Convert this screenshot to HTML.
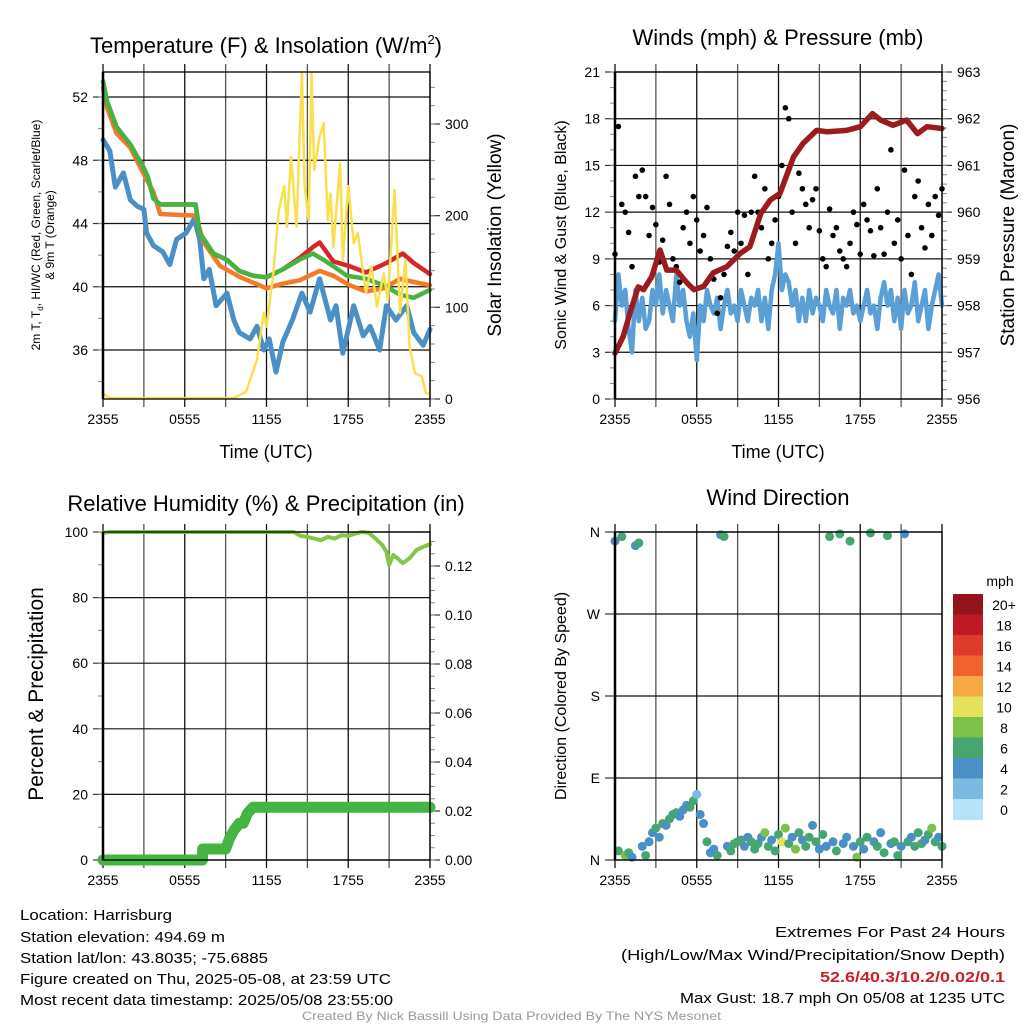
<!DOCTYPE html>
<html><head><meta charset="utf-8"><style>
body{margin:0;background:#fff}
svg{display:block;font-family:"Liberation Sans",sans-serif}
</style></head><body>
<svg id="fig" width="1024" height="1024" viewBox="0 0 1024 1024" xmlns="http://www.w3.org/2000/svg">
<rect width="1024" height="1024" fill="#fff"/>
<g id="g"></g>
<!-- titles -->
<text x="266" y="53" font-size="22" text-anchor="middle">Temperature (F) &amp; Insolation (W/m<tspan font-size="13" dy="-9">2</tspan><tspan dy="9">)</tspan></text>
<text x="778" y="45" font-size="22" text-anchor="middle">Winds (mph) &amp; Pressure (mb)</text>
<text x="266" y="511" font-size="22" text-anchor="middle">Relative Humidity (%) &amp; Precipitation (in)</text>
<text x="778" y="505" font-size="22" text-anchor="middle">Wind Direction</text>
<text x="266" y="458" font-size="18" text-anchor="middle">Time (UTC)</text>
<text x="778" y="458" font-size="18" text-anchor="middle">Time (UTC)</text>
<text transform="translate(40,235) rotate(-90)" font-size="12" text-anchor="middle">2m T, T<tspan font-size="8" dy="3">d</tspan><tspan dy="-3">, HI/WC (Red, Green, Scarlet/Blue)</tspan></text>
<text transform="translate(54,235) rotate(-90)" font-size="12" text-anchor="middle">&amp; 9m T (Orange)</text>
<text transform="translate(501,235) rotate(-90)" font-size="19" text-anchor="middle">Solar Insolation (Yellow)</text>
<text transform="translate(566,235) rotate(-90)" font-size="16" text-anchor="middle">Sonic Wind &amp; Gust (Blue, Black)</text>
<text transform="translate(1014,235) rotate(-90)" font-size="19" text-anchor="middle">Station Pressure (Maroon)</text>
<text transform="translate(43,694) rotate(-90)" font-size="21" text-anchor="middle">Percent &amp; Precipitation</text>
<text transform="translate(566,696) rotate(-90)" font-size="16" text-anchor="middle">Direction (Colored By Speed)</text>
<text x="1000" y="586" font-size="14" text-anchor="middle">mph</text>
<!-- footer -->
<g font-size="14.5">
<text x="20" y="920" textLength="152" lengthAdjust="spacingAndGlyphs">Location: Harrisburg</text>
<text x="20" y="942" textLength="205" lengthAdjust="spacingAndGlyphs">Station elevation: 494.69 m</text>
<text x="20" y="963" textLength="248" lengthAdjust="spacingAndGlyphs">Station lat/lon: 43.8035; -75.6885</text>
<text x="20" y="984" textLength="371" lengthAdjust="spacingAndGlyphs">Figure created on Thu, 2025-05-08, at 23:59 UTC</text>
<text x="20" y="1005" textLength="373" lengthAdjust="spacingAndGlyphs">Most recent data timestamp: 2025/05/08 23:55:00</text>
</g>
<g font-size="14.5">
<text x="775" y="937" textLength="230" lengthAdjust="spacingAndGlyphs">Extremes For Past 24 Hours</text>
<text x="621" y="960" textLength="384" lengthAdjust="spacingAndGlyphs">(High/Low/Max Wind/Precipitation/Snow Depth)</text>
<text x="820" y="982" textLength="185" lengthAdjust="spacingAndGlyphs" fill="#c8202a" font-weight="bold">52.6/40.3/10.2/0.02/0.1</text>
<text x="680" y="1003" textLength="325" lengthAdjust="spacingAndGlyphs">Max Gust: 18.7 mph On 05/08 at 1235 UTC</text>
</g>
<text x="302" y="1020" font-size="12" fill="#999" textLength="419" lengthAdjust="spacingAndGlyphs">Created By Nick Bassill Using Data Provided By The NYS Mesonet</text>
</svg>
<script>
// ---- data ----
const xTickLabels=["2355","","0555","","1155","","1755","","2355"];
const tempTicks=[36,40,44,48,52];
const solarTicks=[0,100,200,300];
const windTicks=[0,3,6,9,12,15,18,21];
const pressTicks=[956,957,958,959,960,961,962,963];
const rhTicks=[0,20,40,60,80,100];
const precipTicks=[0,0.02,0.04,0.06,0.08,0.10,0.12];
const precipTickLabels=["0.00","0.02","0.04","0.06","0.08","0.10","0.12"];
const dirTicks=[0,90,180,270,360];
const dirTickLabels=["N","E","S","W","N"];
const speedBinLabels=["0","2","4","6","8","10","12","14","16","18","20+"];
const speedColors=["#b6e3f8","#7cb9e3","#4a8fc6","#47a571","#7dc14b","#e6e15a","#f6a943","#f0632e","#de3a2c","#bd1a23","#94141b"];

const greenT=[0,0.3,1,2,3,3.3,3.7,4.2,6.8,7.1,8.1,9.1,10,11,12,13.2,14.4,15.4,16.2,16.9,17.9,19.3,20.6,21.8,22.8,24];
const greenV=[53.0,51.7,50.1,49.0,47.5,46.9,45.6,45.2,45.2,43.4,42.1,41.7,41.0,40.7,40.6,41.1,41.7,42.1,41.7,41.3,40.7,40.5,40.1,39.5,39.3,39.8];
const redT=[0,0.3,1,2,3,3.3,3.7,4.2,6.8,7.1,8.1,9.1,10,11,12,13.2,14.4,15.4,15.9,16.9,18.1,19.3,20.8,22,22.8,24];
const redV=[53.0,51.7,50.1,49.0,47.5,46.9,45.6,45.2,45.2,43.4,42.1,41.7,41.0,40.7,40.6,41.1,41.8,42.5,42.8,41.6,41.3,40.9,41.5,42.1,41.5,40.8];
const orangeT=[0,0.3,1,2,3,3.7,4.2,6.8,7.4,8.6,10.1,12,13.2,14.4,15.9,16.9,18.1,19.3,20.6,21.8,22.8,24];
const orangeV=[52.6,51.3,49.7,48.8,47.1,46.0,44.6,44.5,42.8,41.3,40.6,39.9,40.2,40.4,41.0,40.7,40.1,39.7,39.9,40.5,40.3,40.1];
const blueT=[0,0.5,0.9,1.5,2,2.5,3,3.2,3.7,4.4,4.9,5.4,6.1,6.7,7.1,7.4,7.8,8.3,9.1,9.6,10,10.8,11.3,11.8,12.2,12.7,13.2,13.9,14.6,15.2,15.9,16.7,17.1,17.6,18.4,19.1,19.6,20.3,20.8,21.5,22.3,22.8,23.5,24];
const blueV=[49.3,48.6,46.3,47.2,45.5,45.1,44.9,43.4,42.6,42.2,41.4,43.0,43.4,44.3,43.0,40.5,41.1,38.8,39.6,37.9,37.1,36.7,37.5,36.0,36.7,34.6,36.5,37.9,39.6,38.4,40.5,37.9,38.8,35.8,38.8,36.9,37.5,36.0,38.8,37.9,38.8,37.1,36.3,37.3];
const solarT=[0,0.5,9.6,10.5,11.3,11.8,12,12.5,12.9,13.3,13.5,13.8,14.2,14.6,14.8,15.1,15.3,15.5,15.9,16.2,16.5,16.7,16.9,17.4,17.6,18.0,18.4,18.7,19.1,19.3,19.7,20.1,20.6,20.9,21.4,21.8,22.2,22.5,22.9,23.4,23.7,24];
const solarV=[6,1,1,8,43,94,79,137,206,232,188,264,188,355,232,195,355,250,286,301,195,224,166,257,152,232,170,181,137,116,145,101,137,108,228,94,152,57,28,25,6,6];

const pressT=[0,0.6,1.1,1.7,2.1,2.7,3.3,3.8,4.5,5.3,5.8,6.5,7.2,8.2,9.2,9.9,10.7,11.4,12.1,13.1,13.8,14.8,15.6,17.0,18.0,18.9,19.5,20.4,21.4,22.2,22.9,24];
const pressV=[956.98,957.34,957.84,958.4,958.34,958.62,959.19,958.76,958.76,958.48,958.34,958.41,958.7,958.83,959.12,959.26,959.97,960.26,960.4,961.18,961.47,961.75,961.72,961.75,961.83,962.11,961.97,961.86,961.97,961.68,961.83,961.79];
const windV=[5,8,6,7,4.5,3,7,5,6.5,4.5,5,7,6, 8,5.5,7,6,5,8,6,7,5,4,5.5,2.5, 6,5,7,6,5.5,6.5,4.5,6,7,5.5,6,5, 7,6,5,6.5,6,7,5,6.5,4.5,7,8,10, 7,8,7.5,6,7,5,6.5,5,7,5.5,6.5,6, 5,7,6,5.5,7,4.5,6.5,6,7,5.5,6,5, 6,7,5.5,6,4.5,6.5,7.5,6,7,5,6.5,4.5, 7,5.5,6,7.5,5,6,7,4.5,6,7,8,6];
const gustV=[9.3,17.5,12.5,12,10.7,8.5,14.3,13,14.7,13,10.5,12.3,11.2, 8.8,10.2,14.3,12.5,9,8.5,7.5,11,12,10,13,11.5, 9.5,10.5,12.3,9,7.7,5.5,6.5,8,9.8,10.7,9.5,12, 10,11.8,8,12,14.3,12,11,13.5,9,10,11.5,13, 15,18.7,18,12,10,14.5,13.5,12.5,11,12.8,13.5,10.8, 9,8.5,12.2,10.5,11,9.5,9,8.5,10,12,11.2,9.3, 12.5,11.5,10.8,9.2,13.5,11,9.3,12,16,10,11.5,9, 14.7,10.5,8,13,14,11,9.7,12.5,10.5,13,11.8,13.5];

const rhT=[0,0.5,14,14.5,15,15.5,16,16.5,17,17.5,18,18.5,19,19.5,20,20.5,20.8,21,21.3,21.6,22,22.5,23,23.5,24];
const rhV=[99.8,100,100,98.8,98.5,98,97.5,98.5,98,99,98.8,99.5,100,99.8,98,96,94,90,93,92,90.5,92,94.5,95.5,96.3];
const precipT=[0,7.3,7.31,9.0,9.3,9.6,10.0,10.3,10.6,11.0,24];
const precipV=[0,0,0.0045,0.0045,0.009,0.012,0.015,0.015,0.019,0.0215,0.0215];

const dirV=[350,10,355,5,8,3,345,348,15,5,20,30,35, 25,40,38,45,50,52,48,55,60,58,65,72, 50,40,20,8,12,5,357,355,15,10,18,20, 22,15,25,20,12,18,25,30,15,22,10,28, 20,35,18,25,12,30,22,15,25,38,20,12, 28,15,355,20,10,358,18,25,350,15,3,20, 12,25,359,20,15,30,8,356,18,20,5,15, 358,20,25,15,30,18,22,28,35,20,25,15];
const spdV=[4,6,7,8,6,5,4,6,5,6,4,5,6, 4,6,5,6,7,6,5,4,5,6,7,2, 4,4,6,5,4,6,4,6,5,6,7,6, 6,5,4,6,7,6,5,8,6,5,6,7, 10,8,6,5,8,6,4,6,7,5,6,5, 6,4,6,5,7,6,5,4,6,5,8,6, 5,6,6,4,6,5,6,6,5,7,6,5, 4,6,5,6,7,6,5,6,8,6,5,6];

// ---- helpers ----
const NS="http://www.w3.org/2000/svg";
const G=document.getElementById('g');
function mk(tag,attrs,parent){const e=document.createElementNS(NS,tag);for(const k in attrs)e.setAttribute(k,attrs[k]);(parent||G).appendChild(e);return e;}
function lin(d0,d1,r0,r1){return v=>r0+(v-d0)/(d1-d0)*(r1-r0);}

function panel(L,R,T,B){
  const X=lin(0,24,L,R);
  for(let i=0;i<=8;i++){
    const x=X(i*3);
    const l=mk('line',{x1:x,y1:T-8,x2:x,y2:B+8,stroke:i%2?'#555':'#111','stroke-width':1.3});
    
    
    if(xTickLabels[i]){
      const t=mk('text',{x:x,y:B+25,'font-size':14,'text-anchor':'middle'});t.textContent=xTickLabels[i];
      
      
    }
  }
  return X;
}
function frame(L,R,T,B){
  const f=mk('rect',{x:L,y:T,width:R-L,height:B-T,fill:'none',stroke:'#000','stroke-width':1.3});
  
  
  mk('line',{x1:L,y1:T,x2:L,y2:B,stroke:'#000','stroke-width':2.5});
}
function yAxis(ticks,labels,Y,x,side,L,R,grid,minorStep,lo,hi){
  ticks.forEach((v,i)=>{
    const y=Y(v);
    if(grid){const g=mk('line',{x1:L,y1:y,x2:R,y2:y,stroke:'#111','stroke-width':1.2});
      
      }
    mk('line',{x1:x,y1:y,x2:x+(side<0?-10:10),y2:y,stroke:'#333','stroke-width':1.2});
    const t=mk('text',{x:side<0?x-15:x+15,y:y+5,'font-size':14,'text-anchor':side<0?'end':'start'});
    t.textContent=labels?labels[i]:String(v);
    
    
  });
  if(minorStep){for(let v=lo;v<=hi+1e-9;v+=minorStep){const y=Y(v);mk('line',{x1:x,y1:y,x2:x+(side<0?-5:5),y2:y,stroke:'#888','stroke-width':1});}}
}
function path(ts,vs,X,Y,color,w,name){
  let d='';ts.forEach((t,i)=>{d+=(i?'L':'M')+X(t).toFixed(1)+','+Y(vs[i]).toFixed(1);});
  const p=mk('path',{d:d,fill:'none',stroke:color,'stroke-width':w,'stroke-linejoin':'round','stroke-linecap':'round'});
  
  
  return p;
}

// ---- panel 1: temperature ----
(function(){
  const L=103,R=430,T=72,B=399;
  const X=panel(L,R,T,B);
  const Yt=lin(36,52,350,97), Ys=lin(0,300,399,124);
  yAxis(tempTicks,null,Yt,L,-1,L,R,true,2,34,52);
  yAxis(solarTicks,null,Ys,R,1,L,R,false,20,0,340);
  path(blueT,blueV,X,Yt,'#4a8fc6',5,'dewpoint-line');
  path(orangeT,orangeV,X,Yt,'#f47a2a',4.5,'temp-9m-line');
  path(redT,redV,X,Yt,'#d7262a',4.5,'heat-index-line');
  path(greenT,greenV,X,Yt,'#46b443',4.5,'temp-2m-line');
  path(solarT,solarV,X,Ys,'#f9e04c',2.5,'solar-insolation-line');
  frame(L,R,T,B);
})();

// ---- panel 2: winds ----
(function(){
  const L=615,R=942,T=72,B=399;
  const X=panel(L,R,T,B);
  const Yw=lin(0,21,399,72), Yp=lin(956,963,399,72);
  yAxis(windTicks,null,Yw,L,-1,L,R,true,1,0,21);
  yAxis(pressTicks,null,Yp,R,1,L,R,false,0.2,956,963);
  const wt=windV.map((v,i)=>i*0.25);
  path(wt,windV,X,Yw,'#5b9fd6',4.5,'sonic-wind-line');
  gustV.forEach((v,i)=>{
    const c=mk('circle',{cx:X(i*0.25),cy:Yw(v),r:2.8,fill:'#000'});
    
    
  });
  path(pressT,pressV,X,Yp,'#9b1b1e',5.5,'pressure-line');
  frame(L,R,T,B);
})();

// ---- panel 3: RH & precip ----
(function(){
  const L=103,R=430,T=532,B=860;
  const X=panel(L,R,T,B);
  const Yr=lin(0,100,860,532), Yq=lin(0,0.12,860,566);
  yAxis(rhTicks,null,Yr,L,-1,L,R,true,10,0,100);
  yAxis(precipTicks,precipTickLabels,Yq,R,1,L,R,false,0.005,0,0.13);
  path(rhT,rhV,X,Yr,'#86c44a',4,'relative-humidity-line');
  path(precipT,precipV,X,Yq,'#46b443',11,'precipitation-line');
  frame(L,R,T,B);
})();

// ---- panel 4: wind direction ----
(function(){
  const L=615,R=942,T=532,B=860;
  const X=panel(L,R,T,B);
  const Yd=lin(0,360,860,532);
  yAxis(dirTicks,dirTickLabels,Yd,L,-1,L,R,true,0,0,0);
  dirV.forEach((d,i)=>{
    const bin=Math.min(10,Math.floor(spdV[i]/2));
    const c=mk('circle',{cx:X(i*0.25),cy:Yd(d),r:4.5,fill:speedColors[bin]});
    
    
  });
  frame(L,R,T,B);
  // colorbar
  const cbTop=594,cbH=20.5;
  speedBinLabels.forEach((lab,k)=>{
    const j=10-k;
    const y=cbTop+k*cbH;
    const r=mk('rect',{x:953,y:y,width:30,height:cbH+0.5,fill:speedColors[j]});
    
    
    const t=mk('text',{x:1004,y:y+16,'font-size':14,'text-anchor':'middle'});
    t.textContent=speedBinLabels[j];
    
    
  });
})();
</script>
</body></html>
